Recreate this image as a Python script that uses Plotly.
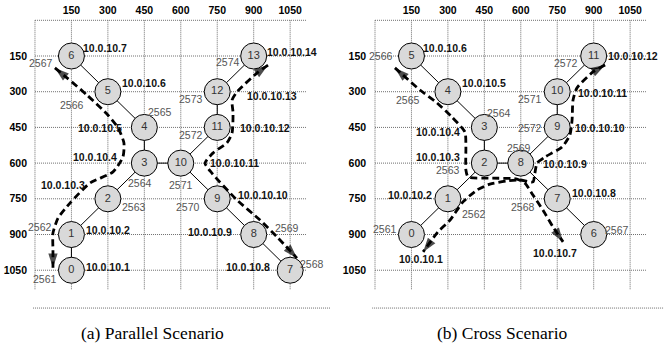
import plotly.graph_objects as go

# ---------------- data ----------------
tick_vals = [150, 300, 450, 600, 750, 900, 1050]
tick_text = ["150", "300", "450", "600", "750", "900", "1050"]
grid_vals = [0, 150, 300, 450, 600, 750, 900, 1050]

# (a) Parallel Scenario
a_node_id = list(range(14))
a_node_x = [150, 150, 300, 450, 450, 300, 150, 1050, 900, 750, 600, 750, 750, 900]
a_node_y = [1050, 900, 750, 600, 450, 300, 150, 1050, 900, 750, 600, 450, 300, 150]
a_ip = ["10.0.10.1", "10.0.10.2", "10.0.10.3", "10.0.10.4", "10.0.10.5", "10.0.10.6",
        "10.0.10.7", "10.0.10.8", "10.0.10.9", "10.0.10.10", "10.0.10.11", "10.0.10.12",
        "10.0.10.13", "10.0.10.14"]
a_port = ["2561", "2562", "2563", "2564", "2565", "2566", "2567", "2568", "2569", "2570",
          "2571", "2572", "2573", "2574"]
a_edges = [(0, 1), (1, 2), (2, 3), (3, 4), (4, 5), (5, 6), (3, 10), (10, 9), (9, 8),
           (8, 7), (10, 11), (11, 12), (12, 13)]
a_path1_x = [82, 132, 214, 300, 342, 366, 362, 321, 226, 144, 95, 74, 74, 74]
a_path1_y = [200, 242, 314, 398, 452, 515, 574, 637, 684, 768, 831, 894, 965, 1040]
a_path2_x = [959, 914, 831, 811, 815, 811, 790, 733, 700, 728, 831, 926, 996, 1078]
a_path2_y = [188, 221, 301, 335, 389, 473, 515, 557, 600, 642, 755, 839, 910, 999]

# (b) Cross Scenario
b_node_id = list(range(12))
b_node_x = [150, 300, 450, 450, 300, 150, 900, 750, 600, 750, 750, 900]
b_node_y = [900, 750, 600, 450, 300, 150, 900, 750, 600, 450, 300, 150]
b_ip = ["10.0.10.1", "10.0.10.2", "10.0.10.3", "10.0.10.4", "10.0.10.5", "10.0.10.6",
        "10.0.10.7", "10.0.10.8", "10.0.10.9", "10.0.10.10", "10.0.10.11", "10.0.10.12"]
b_port = ["2561", "2562", "2563", "2564", "2565", "2566", "2567", "2568", "2569", "2572",
          "2571", "2572"]
b_edges = [(0, 1), (1, 2), (2, 3), (3, 4), (4, 5), (2, 8), (8, 9), (9, 10), (10, 11),
           (8, 7), (7, 6)]
b_path1_x = [82, 115, 185, 255, 317, 370, 374, 374, 383, 473, 584, 617, 650, 691, 733, 774]
b_path1_y = [200, 230, 293, 347, 407, 469, 532, 629, 658, 663, 667, 684, 734, 797, 869, 931]
b_path2_x = [947, 897, 831, 815, 811, 802, 770, 700, 667, 658, 650, 597, 543, 473, 420, 362,
             309, 259, 198]
b_path2_y = [188, 217, 284, 335, 419, 482, 532, 574, 600, 642, 679, 671, 675, 688, 713, 763,
             839, 889, 973]

captions = ["(a) Parallel Scenario", "(b) Cross Scenario"]

# ---------------- styles (label placement in px: anchor, dx, dy) ----------------
a_ip_pos = [("left", 14.5, -3), ("left", 14.5, -4.5), ("right", -23, -14), ("right", -27, -6),
            ("right", -22, 0.5), ("left", 14, -9), ("left", 11.5, -8), ("right", -20, -3),
            ("right", -21.5, -2.5), ("left", 20.5, -4), ("left", 29, 0), ("left", 22.5, 0.5),
            ("left", 29.5, 4), ("left", 13, -4)]
a_port_pos = [("right", -14.5, 9), ("right", -19.5, -7.5), ("left", 14, 8), ("center", -4, 20),
              ("left", 4, -15), ("right", -24, 13), ("right", -18.5, 7), ("left", 10, -6),
              ("left", 21, -6.5), ("right", -17, 8), ("center", 0, 22), ("right", -14, 8),
              ("right", -14, 7), ("right", -14, 6)]
b_ip_pos = [("center", 10, 24.5), ("right", -16, -4), ("right", -24.5, -6), ("right", -24.5, 4.5),
            ("left", 14, -9), ("left", 11.5, -8), ("right", -16.5, 18.5), ("left", 14.5, -6),
            ("left", 22, 1), ("left", 18, 0.5), ("left", 21, 1), ("left", 14, 0)]
b_port_pos = [("right", -14.5, -5.5), ("left", 14, 15), ("right", -24.5, 7), ("left", 3, -14),
              ("right", -28, 8), ("right", -18.5, 0), ("left", 11, -4.5), ("right", -22, 8),
              ("center", -2, -15), ("right", -15, 0.5), ("right", -15, 7), ("right", -15.5, 7)]

SANS = "Liberation Sans, Arial, Helvetica, sans-serif"
SERIF = "Liberation Serif, Times New Roman, serif"
GRID_COLOR = "#6e6e6e"

fig = go.Figure()
shapes = []
annotations = []


def add_panel(xa, ya, nx, ny, nid, ips, ports, edges, paths, ip_pos, port_pos, xmin, xmax):
    xref, yref = xa, ya
    # grid
    gl = dict(color=GRID_COLOR, width=1, dash="1px,1px")
    for g in grid_vals:
        shapes.append(dict(type="line", xref=xref, yref=yref, x0=g, x1=g, y0=0, y1=1130,
                           line=gl, layer="below"))
        shapes.append(dict(type="line", xref=xref, yref=yref, x0=0, x1=1115, y0=g, y1=g,
                           line=gl, layer="below"))
    shapes.append(dict(type="line", xref=xref, yref=yref, x0=xmin, x1=xmax, y0=1209, y1=1209,
                       line=gl, layer="below"))
    # edges
    ex, ey = [], []
    for s, t in edges:
        ex += [nx[s], nx[t], None]
        ey += [ny[s], ny[t], None]
    fig.add_trace(go.Scatter(x=ex, y=ey, mode="lines", line=dict(color="black", width=1),
                             xaxis=xa, yaxis=ya, hoverinfo="skip"))
    # nodes
    fig.add_trace(go.Scatter(x=nx, y=ny, mode="markers+text", text=[str(i) for i in nid],
                             textposition="middle center",
                             textfont=dict(family=SANS, size=11, color="#333333"),
                             marker=dict(size=26, color="#d9d9d9",
                                         line=dict(color="black", width=1)),
                             xaxis=xa, yaxis=ya, hoverinfo="skip"))
    # dashed paths with arrowheads at both ends
    for px, py in paths:
        fig.add_trace(go.Scatter(x=px, y=py, mode="lines",
                                 line=dict(color="black", width=2.8, dash="7px,4px",
                                           shape="spline", smoothing=0.6),
                                 xaxis=xa, yaxis=ya, hoverinfo="skip"))
        for hx, hy in ((px[-2:], py[-2:]), ([px[1], px[0]], [py[1], py[0]])):
            fig.add_trace(go.Scatter(x=hx, y=hy, mode="markers",
                                     marker=dict(symbol="arrow", size=[0, 15], color="black",
                                                 angleref="previous",
                                                 line=dict(width=0)),
                                     xaxis=xa, yaxis=ya, hoverinfo="skip"))
    # labels
    for i in range(len(nx)):
        for txt, (anc, dx, dy), font in ((ips[i], ip_pos[i],
                                          dict(family=SANS, size=10.5, color="#111111",
                                               weight="bold")),
                                         (ports[i], port_pos[i],
                                          dict(family=SANS, size=10.5, color="#555555"))):
            annotations.append(dict(x=nx[i], y=ny[i], xref=xref, yref=yref, text=txt,
                                    showarrow=False, xanchor=anc, yanchor="middle",
                                    xshift=dx, yshift=-dy, font=font,
                                    borderpad=0, borderwidth=0))


add_panel("x", "y", a_node_x, a_node_y, a_node_id, a_ip, a_port, a_edges,
          [(a_path1_x, a_path1_y), (a_path2_x, a_path2_y)], a_ip_pos, a_port_pos, -8, 1214)
add_panel("x2", "y2", b_node_x, b_node_y, b_node_id, b_ip, b_port, b_edges,
          [(b_path1_x, b_path1_y), (b_path2_x, b_path2_y)], b_ip_pos, b_port_pos, -12, 1188)

for cx, cap in zip([0.229, 0.755], captions):
    annotations.append(dict(x=cx, y=1 - 333 / 349, xref="paper", yref="paper", text=cap,
                            showarrow=False, xanchor="center", yanchor="middle",
                            font=dict(family=SERIF, size=17.5, color="black")))

tickfont = dict(family=SANS, size=10.5, color="black", weight="bold")
xcommon = dict(side="top", tickvals=tick_vals, ticktext=tick_text, showgrid=False,
               zeroline=False, showline=False, ticks="", tickfont=tickfont)
ycommon = dict(tickvals=tick_vals, ticktext=tick_text, showgrid=False, zeroline=False,
               showline=False, ticks="", tickfont=tickfont, range=[1215, -15],
               ticklabelstandoff=5)

fig.update_layout(
    width=666, height=349, margin=dict(l=0, r=0, t=0, b=0),
    paper_bgcolor="white", plot_bgcolor="white", showlegend=False,
    xaxis=dict(domain=[0.0496, 0.4955], range=[-8, 1214], anchor="y", **xcommon),
    yaxis=dict(domain=[0.1132, 0.95206], anchor="x", **ycommon),
    xaxis2=dict(domain=[0.5587, 0.9965], range=[-12, 1188], anchor="y2", **xcommon),
    yaxis2=dict(domain=[0.1132, 0.95206], anchor="x2", **ycommon),
    shapes=shapes, annotations=annotations,
)

fig.write_html("out.html", config={"displayModeBar": False},
               post_script="document.body.style.margin='0';document.body.style.padding='0';")
